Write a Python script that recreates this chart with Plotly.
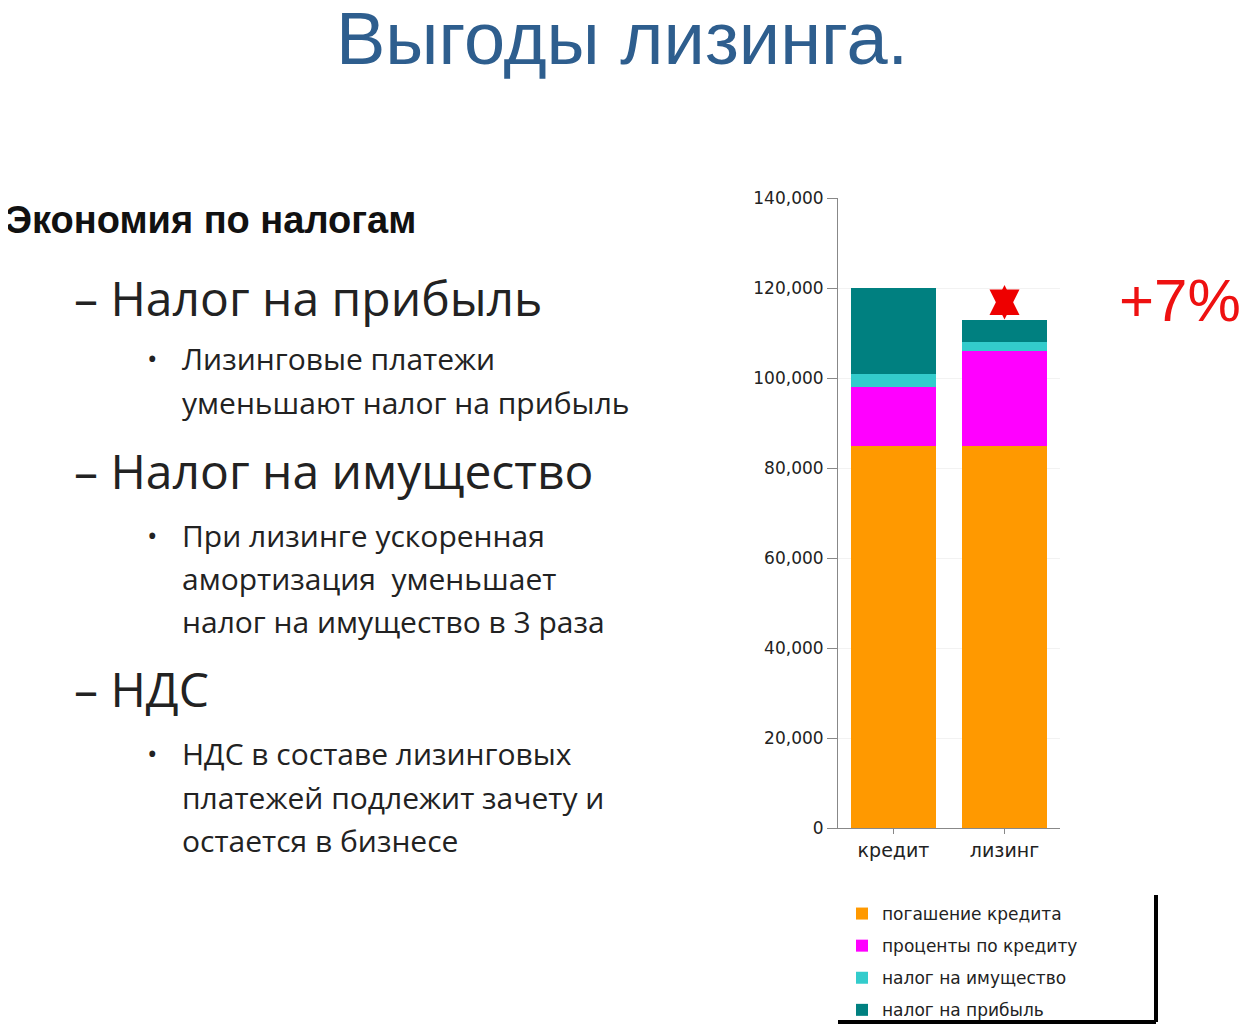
import plotly.graph_objects as go

categories = ["кредит", "лизинг"]
series_names = ["погашение кредита", "проценты по кредиту", "налог на имущество", "налог на прибыль"]
series_colors = ["#FF9900", "#FF00FF", "#33CCCC", "#008080"]
repayment = [85000, 85000]
interest = [13000, 21000]
property_tax = [3000, 2000]
profit_tax = [19000, 5000]
series_values = [repayment, interest, property_tax, profit_tax]
tick_vals = [0, 20000, 40000, 60000, 80000, 100000, 120000, 140000]
tick_text = ["0", "20,000", "40,000", "60,000", "80,000", "100,000", "120,000", "140,000"]

O = 8  # page body offset
W, H = 1250, 1030
L, R, T, B = 838 - O, 1060 - O, 198 - O, 828 - O
pw, ph = R - L, B - T

def px(x):
    return (x - O - L) / pw

def py(y):
    return (B - (y - O)) / ph

fig = go.Figure()
for i, (name, color, vals) in enumerate(zip(series_names, series_colors, series_values)):
    fig.add_trace(go.Bar(x=categories, y=vals, name=name, marker_color=color,
                         marker_line_width=0, legendgroup=f"g{i}"))

fig.update_layout(
    width=W, height=H, barmode="stack", bargap=0.23,
    paper_bgcolor="white", plot_bgcolor="white",
    margin=dict(l=L, r=W - R, t=T, b=H - B, autoexpand=False),
    showlegend=True,
    legend=dict(x=px(842), y=py(896), xanchor="left", yanchor="top",
                traceorder="reversed+grouped", tracegroupgap=7,
                font=dict(family="DejaVu Sans", size=17, color="#222"),
                itemwidth=30, bgcolor="rgba(0,0,0,0)"),
    xaxis=dict(showline=True, linecolor="#888", ticks="outside", tickcolor="#888",
               tickfont=dict(family="DejaVu Sans", size=19, color="#222"), ticklen=5),
    yaxis=dict(range=[0, 140000], tickvals=tick_vals, ticktext=tick_text, showgrid=True,
               gridcolor="#f2f2f2", showline=True, linecolor="#888", ticks="outside",
               tickcolor="#888", ticklen=10,
               tickfont=dict(family="DejaVu Sans", size=17, color="#222")),
    font=dict(family="Open Sans"),
)

# Legend border (right and bottom)
fig.add_shape(type="line", xref="paper", yref="paper", x0=px(1156), x1=px(1156), y0=py(1022), y1=py(895),
              line=dict(color="black", width=4))
fig.add_shape(type="line", xref="paper", yref="paper", x0=px(838), x1=px(1156), y0=py(1022), y1=py(1022),
              line=dict(color="black", width=4))

# Red double arrow between totals
fig.add_annotation(x=1, y=113000, ax=1, ay=121000, xref="x", yref="y", axref="x", ayref="y",
                   text="", showarrow=True, arrowhead=2, startarrowhead=2, arrowside="end+start",
                   arrowcolor="#EE0000", arrowwidth=12, arrowsize=0.5, startarrowsize=0.5)
fig.add_annotation(x=px(1180), y=py(300), xref="paper", yref="paper", text="+7%", showarrow=False,
                   xanchor="center", yanchor="middle",
                   font=dict(family="Liberation Sans", size=60, color="#EE1111"))
fig.add_annotation(x=px(622), y=py(38), xref="paper", yref="paper", text="Выгоды лизинга.",
                   showarrow=False, xanchor="center", yanchor="middle",
                   font=dict(family="Liberation Sans", size=74, color="#2E5E8E"))

lines = [
    ("Экономия по налогам", 3, 220, 38, True, "Liberation Sans"),
    ("– Налог на прибыль", 72, 297, 48, False, "Open Sans"),
    ("•", 145, 358, 28, False, "Open Sans"),
    ("Лизинговые платежи", 180, 358, 30, False, "Open Sans"),
    ("уменьшают налог на прибыль", 180, 402, 30, False, "Open Sans"),
    ("– Налог на имущество", 72, 470, 48, False, "Open Sans"),
    ("•", 145, 535, 28, False, "Open Sans"),
    ("При лизинге ускоренная", 180, 535, 30, False, "Open Sans"),
    ("амортизация  уменьшает", 180, 578, 30, False, "Open Sans"),
    ("налог на имущество в 3 раза", 180, 621, 30, False, "Open Sans"),
    ("– НДС", 72, 688, 48, False, "Open Sans"),
    ("•", 145, 753, 28, False, "Open Sans"),
    ("НДС в составе лизинговых", 180, 753, 30, False, "Open Sans"),
    ("платежей подлежит зачету и", 180, 797, 30, False, "Open Sans"),
    ("остается в бизнесе", 180, 840, 30, False, "Open Sans"),
]
for text, x, y, size, bold, fam in lines:
    fig.add_annotation(x=px(x), y=py(y), xref="paper", yref="paper",
                       text=f"<b>{text}</b>" if bold else text, showarrow=False,
                       xanchor="left", yanchor="middle",
                       font=dict(family=fam, size=size, color="#111" if bold else "#222"))

fig.write_html("out.html")
